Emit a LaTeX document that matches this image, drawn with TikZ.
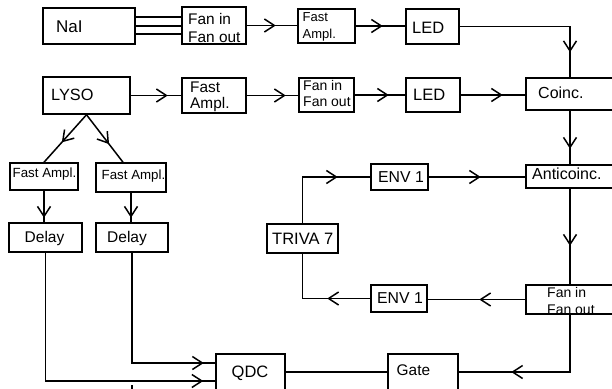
\documentclass[tikz,border=0pt]{standalone}
\usepackage{fontspec}
\setmainfont{Liberation Sans}
\usetikzlibrary{arrows.meta,decorations.markings,calc}
\begin{document}
\begin{tikzpicture}[x=1pt,y=-1pt,
  box/.style={draw,line width=1.5pt,inner sep=0pt},
  txt/.style={inner sep=0pt,anchor=base west},
  fs/.style={font=\fontsize{#1}{#1}\selectfont},
  ln/.style={line width=1.5pt},
  arr/.style={postaction={decorate,decoration={markings,
      mark=at position #1 with {\arrow{Straight Barb[length=10pt,width=13pt]}}}}}
]
\useasboundingbox (0,0) rectangle (612,388);
\fill[white] (0,0) rectangle (612,388);
\clip (0,0) rectangle (612,388);

% ---- boxes ----
\node[box,minimum width=92pt,minimum height=36pt] (nai)   at (89,26) {};
\node[box,minimum width=64pt,minimum height=37pt] (fan1)  at (214,25.5) {};
\node[box,minimum width=57pt,minimum height=34pt] (fa1)   at (326.5,26) {};
\node[box,minimum width=53pt,minimum height=35pt] (led1)  at (432.5,26.5) {};
\node[box,minimum width=88pt,minimum height=32pt] (coinc) at (570,94) {};
\node[box,minimum width=87pt,minimum height=37pt] (lyso)  at (86.5,95.5) {};
\node[box,minimum width=64pt,minimum height=35pt] (fa2)   at (214,95.5) {};
\node[box,minimum width=55pt,minimum height=34pt] (fan2)  at (326.5,95) {};
\node[box,minimum width=54pt,minimum height=34pt] (led2)  at (433,95) {};
\node[box,minimum width=88pt,minimum height=23pt] (anti)  at (570,176.5) {};
\node[box,minimum width=68pt,minimum height=27pt] (fal)   at (44,176.5) {};
\node[box,minimum width=70pt,minimum height=29pt] (far)   at (131,177.5) {};
\node[box,minimum width=73pt,minimum height=29pt] (dl)    at (45.5,237.5) {};
\node[box,minimum width=72pt,minimum height=29pt] (dr)    at (132,237.5) {};
\node[box,minimum width=57pt,minimum height=26pt] (env1a) at (399.5,177) {};
\node[box,minimum width=71pt,minimum height=29pt] (triva) at (302.5,238.5) {};
\node[box,minimum width=56pt,minimum height=27pt] (env1b) at (399,298.5) {};
\node[box,minimum width=88pt,minimum height=29pt] (fan3)  at (570,299.5) {};
\node[box,minimum width=69pt,minimum height=36pt] (qdc)   at (250.5,372) {};
\node[box,minimum width=70pt,minimum height=36pt] (gate)  at (423,372) {};

% ---- texts ----
\node[txt,fs=17]   (nai-t)   at (56,32)    {NaI};
\node[txt,fs=15.4] (fan1-a)  at (188,24)   {Fan in};
\node[txt,fs=15.4] (fan1-b)  at (188,42)   {Fan out};
\node[txt,fs=13]   (fa1-a)   at (302.5,21) {Fast};
\node[txt,fs=13]   (fa1-b)   at (302.5,38) {Ampl.};
\node[txt,fs=16.5] (led1-t)  at (412,33)   {LED};
\node[txt,fs=16]   (coinc-t) at (538,98)   {Coinc.};
\node[txt,fs=16.3] (lyso-t)  at (51,100)   {LYSO};
\node[txt,fs=15.4] (fa2-a)   at (190,92)   {Fast};
\node[txt,fs=15.4] (fa2-b)   at (190,108)  {Ampl.};
\node[txt,fs=14]   (fan2-a)  at (303,90)   {Fan in};
\node[txt,fs=14]   (fan2-b)  at (303,106)  {Fan out};
\node[txt,fs=16.5] (led2-t)  at (413,100)  {LED};
\node[txt,fs=16]   (anti-t)  at (532,179)  {Anticoinc.};
\node[txt,fs=13.3] (fal-t)   at (12.5,177) {Fast Ampl.};
\node[txt,fs=13.3] (far-t)   at (101.5,179) {Fast Ampl.};
\node[txt,fs=15.5] (dl-t)    at (24.5,242) {Delay};
\node[txt,fs=15.5] (dr-t)    at (107,242)  {Delay};
\node[txt,fs=15.8] (env1a-t) at (378,182)  {ENV 1};
\node[txt,fs=16.5] (triva-t) at (272,244)  {TRIVA 7};
\node[txt,fs=15.8] (env1b-t) at (377,303)  {ENV 1};
\node[txt,fs=14]   (fan3-a)  at (547,297)  {Fan in};
\node[txt,fs=14]   (fan3-b)  at (547,314)  {Fan out};
\node[txt,fs=16.5] (qdc-t)   at (231.5,377) {QDC};
\node[txt,fs=15.4] (gate-t)  at (396.5,375) {Gate};

% ---- connectors ----
\draw[ln] ($(nai.east)+(0,-9)$) coordinate (n1) -- (n1 -| fan1.west);
\draw[ln] (nai.east) -- (nai.east -| fan1.west);
\draw[ln] ($(nai.east)+(0,8)$) coordinate (n3) -- (n3 -| fan1.west);
\draw[ln,arr=29pt] (fan1.east) -- (fan1.east -| fa1.west);
\draw[ln,arr=27pt] (fa1.east) -- (fa1.east -| led1.west);
\draw[ln,arr=136pt] (led1.east) -| (coinc.north);
\draw[ln,arr=37pt] (lyso.east) -- (lyso.east -| fa2.west);
\draw[ln,arr=39pt] (fa2.east) -- (fa2.east -| fan2.west);
\draw[ln,arr=34pt] (fan2.east) -- (fan2.east -| led2.west);
\draw[ln,arr=42pt] (led2.east) -- (led2.east -| coinc.west);
\draw[ln,arr=38pt] (coinc.south) -- (anti.north);
\draw[ln,arr=57pt] (anti.south) -- (fan3.north);
\draw[ln,arr=46pt] (fan3.west) -- (fan3.west -| env1b.east);
\draw[ln,arr=43pt] (env1b.west) -| (triva.south);
\draw[ln,arr=81.5pt] (triva.north) |- (env1a.west);
\draw[ln,arr=52pt] (env1a.east) -- (env1a.east -| anti.west);
\draw[ln,arr=116pt] (fan3.south) |- (gate.east);
\draw[ln] (qdc.east) -- (gate.west);
\draw[ln,arr=37pt] (lyso.south) -- (fal.north);
\draw[ln,arr=37pt] (lyso.south) -- ($(far.north)+(-8,0)$);
\draw[ln,arr=27pt] (fal.south) -- (fal.south |- dl.north);
\draw[ln,arr=25pt] (far.south) -- (far.south |- dr.north);
\draw[ln,arr=286pt] (dl.south) |- ($(qdc.west)+(0,9)$);
\draw[ln,arr=182pt] (dr.south) |- ($(qdc.west)+(0,-9)$);
\coordinate (tk) at (132,385);
\draw[ln] (tk) -- ++(0,10);
\end{tikzpicture}
\end{document}
